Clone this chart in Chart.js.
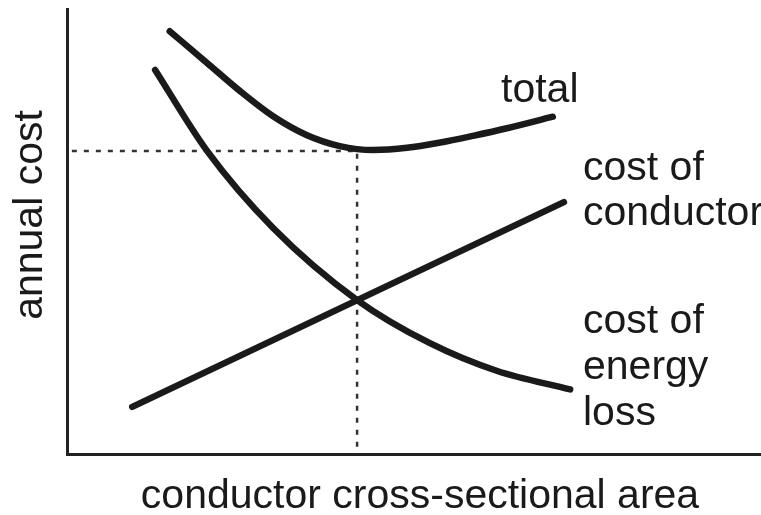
<!DOCTYPE html>
<html>
<head>
<meta charset="utf-8">
<script src="https://cdn.jsdelivr.net/npm/chart.js@4.4.1/dist/chart.umd.min.js"></script>
<style>
  html, body { margin: 0; padding: 0; background: #ffffff; }
  #wrap { width: 761px; height: 515px; }
</style>
</head>
<body>
<div id="wrap"><canvas id="c" width="761" height="515"></canvas></div>
<script>
// ---- Data (arbitrary units: x = cross-sectional area, y = annual cost) ----
const totalX      = [14.8, 20.1, 24.9, 29.7, 34.5, 39.3, 44.1, 49.0, 53.8, 58.5, 63.4, 70.0];
const totalY      = [95.0, 88.0, 81.6, 75.9, 71.7, 69.2, 68.3, 68.8, 70.0, 71.5, 73.2, 75.8];
const energyX     = [12.7, 20.1, 29.7, 41.8, 52.3, 61.9, 72.5];
const energyY     = [86.3, 68.3, 50.8, 34.6, 24.9, 18.7, 14.5];
const conductorX  = [9.4, 71.6];
const conductorY  = [10.6, 56.6];
const optimumX    = [0.7, 41.8, 41.8];
const optimumY    = [68.1, 68.1, 0];
const curveLabels = ["total", "cost of\nconductor", "cost of\nenergy\nloss"];
const xTitle = "conductor cross-sectional area";
const yTitle = "annual cost";

const pts = (xs, ys) => xs.map((x, i) => ({ x: x, y: ys[i] }));

const FONT = '"Liberation Sans", Arial, Helvetica, sans-serif';
const INK = '#1a1a1a';

const textPlugin = {
  id: 'texts',
  afterDraw(chart) {
    const ctx = chart.ctx;
    ctx.save();
    ctx.fillStyle = INK;
    ctx.font = '41px ' + FONT;
    ctx.textBaseline = 'alphabetic';
    ctx.textAlign = 'left';
    const anchors = [
      { x: 501, y: 102, lh: 45 },
      { x: 583, y: 180, lh: 45 },
      { x: 583, y: 333, lh: 46 }
    ];
    curveLabels.forEach((t, i) => {
      t.split('\n').forEach((line, j) => {
        ctx.fillText(line, anchors[i].x, anchors[i].y + j * anchors[i].lh);
      });
    });
    ctx.textAlign = 'center';
    ctx.fillText(xTitle, 420, 508);
    ctx.translate(42, 215);
    ctx.rotate(-Math.PI / 2);
    ctx.fillText(yTitle, 0, 0);
    ctx.restore();
  }
};

const lineStyle = {
  borderColor: INK,
  borderWidth: 6.5,
  borderCapStyle: 'round',
  borderJoinStyle: 'round',
  pointRadius: 0,
  fill: false,
  cubicInterpolationMode: 'monotone'
};

new Chart(document.getElementById('c'), {
  type: 'line',
  data: {
    datasets: [
      Object.assign({ label: 'total', data: pts(totalX, totalY) }, lineStyle),
      Object.assign({ label: 'cost of energy loss', data: pts(energyX, energyY) }, lineStyle),
      Object.assign({ label: 'cost of conductor', data: pts(conductorX, conductorY) }, lineStyle, { cubicInterpolationMode: 'default', tension: 0 }),
      {
        label: 'optimum',
        data: pts(optimumX, optimumY),
        borderColor: '#333333',
        borderWidth: 2.5,
        borderDash: [5, 7],
        pointRadius: 0,
        tension: 0,
        fill: false
      }
    ]
  },
  options: {
    responsive: false,
    animation: false,
    devicePixelRatio: 1,
    layout: { padding: { top: 9, left: 0, right: 0, bottom: 0 } },
    plugins: { legend: { display: false }, tooltip: { enabled: false } },
    scales: {
      x: {
        type: 'linear', min: 0, max: 100,
        grid: { display: false },
        ticks: { display: false },
        border: { display: true, color: '#222222', width: 3 },
        afterFit(s) { s.height = 61; }
      },
      y: {
        type: 'linear', min: 0, max: 100,
        grid: { display: false },
        ticks: { display: false },
        border: { display: true, color: '#222222', width: 3 },
        afterFit(s) { s.width = 67; }
      }
    }
  },
  plugins: [textPlugin]
});
</script>
</body>
</html>
